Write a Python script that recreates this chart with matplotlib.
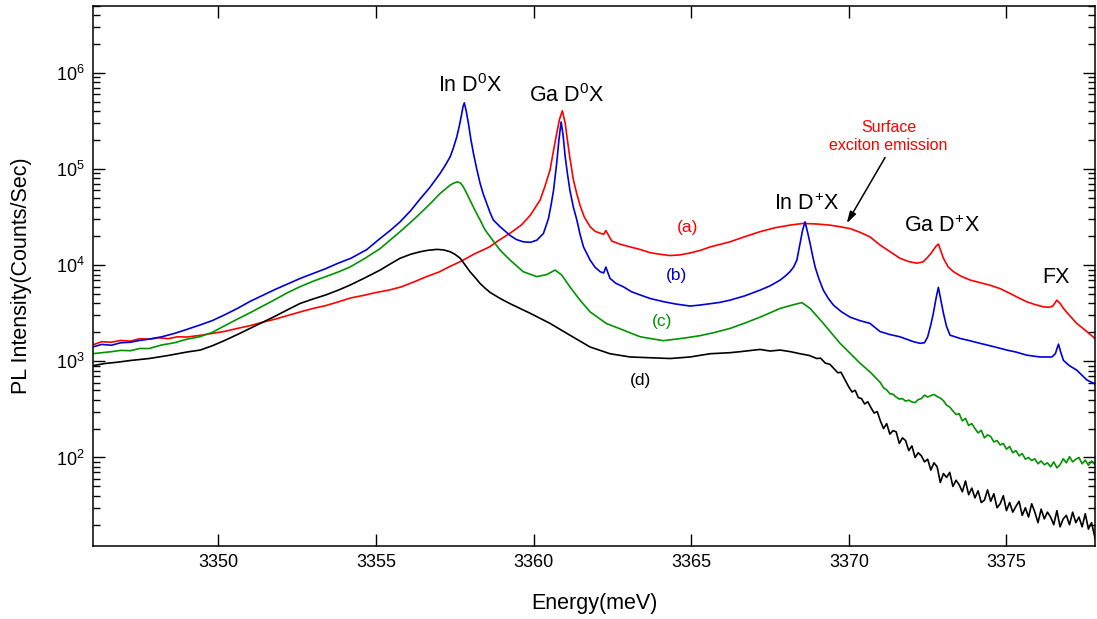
import numpy as np
import matplotlib
matplotlib.use('Agg')
from matplotlib import pyplot as plt
from matplotlib.ticker import LogLocator, MultipleLocator, NullFormatter

plt.rcParams['font.family'] = ['Liberation Sans', 'DejaVu Sans']
plt.rcParams['mathtext.fontset'] = 'custom'
plt.rcParams['mathtext.rm'] = 'Liberation Sans'
plt.rcParams['mathtext.it'] = 'Liberation Sans:italic'
plt.rcParams['mathtext.bf'] = 'Liberation Sans:bold'

# (a) red
energy_a = [3346.0, 3346.3, 3346.6, 3346.9, 3347.2, 3347.5, 3347.8, 3348.1, 3348.4, 3348.7,
            3349.0, 3349.4, 3349.8, 3350.2, 3350.6, 3351.0, 3351.4, 3351.8, 3352.2, 3352.6,
            3353.0, 3353.4, 3353.8, 3354.2, 3354.6, 3355.0, 3355.4, 3355.8, 3356.2, 3356.6,
            3357.0, 3357.3, 3357.7, 3358.1, 3358.6, 3358.9, 3359.25, 3359.6, 3359.89, 3360.2,
            3360.35, 3360.52, 3360.62, 3360.73, 3360.82, 3360.91, 3361.0, 3361.07, 3361.15, 3361.26,
            3361.37, 3361.47, 3361.6, 3361.79, 3361.95, 3362.11, 3362.22, 3362.29, 3362.48, 3362.75,
            3363.06, 3363.4, 3363.69, 3364.0, 3364.33, 3364.65, 3364.96, 3365.3, 3365.6, 3366.23,
            3366.7, 3367.18, 3367.65, 3368.13, 3368.55, 3369.0, 3369.4, 3369.7, 3370.04, 3370.35,
            3370.67, 3370.99, 3371.31, 3371.62, 3371.9, 3372.15, 3372.35, 3372.47, 3372.6, 3372.68,
            3372.77, 3372.84, 3372.92, 3373.0, 3373.15, 3373.32, 3373.55, 3373.85, 3374.15, 3374.47,
            3374.8, 3375.11, 3375.4, 3375.64, 3375.9, 3376.17, 3376.35, 3376.47, 3376.6, 3376.7,
            3376.81, 3377.0, 3377.23, 3377.55, 3377.87]
pl_a = [1480, 1600, 1580, 1650, 1620, 1720, 1700, 1760, 1720, 1800,
        1790, 1860, 1950, 2050, 2200, 2350, 2550, 2750, 3000, 3270,
        3550, 3800, 4150, 4570, 4850, 5200, 5500, 5950, 6700, 7600,
        8500, 9560, 11000, 13000, 15500, 18200, 21500, 26000, 33000, 47300,
        65000, 98000, 150000, 234000, 330000, 403000, 300000, 200000, 130000, 77000,
        55000, 42000, 32000, 25100, 22500, 21500, 21000, 22900, 17800, 16500,
        15500, 14500, 13500, 13000, 12600, 12800, 13400, 14300, 15500, 17500,
        19800, 22300, 24500, 26100, 27200, 26800, 26100, 25200, 24000, 22000,
        19700, 16200, 13800, 11800, 10900, 10500, 10800, 11800, 13200, 14400,
        15800, 16600, 14000, 11800, 9600, 8560, 7700, 7000, 6600, 6200,
        5700, 5090, 4550, 4170, 3900, 3690, 3650, 3760, 4330, 4000,
        3550, 3000, 2480, 2040, 1660]

# (b) blue
energy_b = [3346.0, 3346.3, 3346.6, 3346.9, 3347.2, 3347.5, 3347.8, 3348.2, 3348.6, 3349.0,
            3349.4, 3349.8, 3350.2, 3350.6, 3351.0, 3351.4, 3351.8, 3352.2, 3352.6, 3353.0,
            3353.4, 3353.8, 3354.2, 3354.7, 3355.13, 3355.45, 3355.76, 3356.1, 3356.4, 3356.7,
            3357.03, 3357.2, 3357.35, 3357.45, 3357.56, 3357.65, 3357.72, 3357.76, 3357.8, 3357.86,
            3357.93, 3358.0, 3358.09, 3358.2, 3358.3, 3358.4, 3358.51, 3358.62, 3358.72, 3358.93,
            3359.25, 3359.45, 3359.67, 3359.9, 3360.1, 3360.31, 3360.47, 3360.55, 3360.63, 3360.73,
            3360.8, 3360.87, 3360.93, 3361.0, 3361.07, 3361.15, 3361.26, 3361.37, 3361.47, 3361.58,
            3361.79, 3361.95, 3362.11, 3362.22, 3362.29, 3362.42, 3362.6, 3362.85, 3363.1, 3363.38,
            3363.7, 3364.11, 3364.5, 3364.96, 3365.28, 3365.6, 3365.9, 3366.23, 3366.7, 3367.18,
            3367.5, 3367.82, 3368.0, 3368.13, 3368.25, 3368.35, 3368.45, 3368.53, 3368.61, 3368.69,
            3368.77, 3368.85, 3368.93, 3369.05, 3369.19, 3369.35, 3369.51, 3369.75, 3370.04, 3370.35,
            3370.67, 3370.99, 3371.3, 3371.62, 3372.05, 3372.26, 3372.4, 3372.5, 3372.6, 3372.68,
            3372.77, 3372.84, 3372.92, 3373.0, 3373.1, 3373.21, 3373.53, 3373.8, 3374.16, 3374.6,
            3375.01, 3375.3, 3375.64, 3376.07, 3376.44, 3376.55, 3376.65, 3376.72, 3376.81, 3377.0,
            3377.23, 3377.55, 3377.87]
pl_b = [1410, 1500, 1470, 1560, 1580, 1650, 1700, 1800, 1950, 2150,
        2380, 2650, 3050, 3550, 4200, 4850, 5600, 6400, 7300, 8200,
        9200, 10500, 11800, 14500, 19000, 23000, 28200, 37000, 49000, 64000,
        90000, 110000, 134000, 165000, 216000, 290000, 380000, 450000, 488000, 400000,
        298000, 210000, 145000, 98000, 71000, 55000, 43800, 35000, 29500, 25200,
        20400, 18500, 17500, 17300, 18200, 21400, 30600, 42000, 60000, 115000,
        200000, 309000, 230000, 134000, 90000, 60000, 40000, 29500, 21000, 15500,
        11300, 9500, 8550, 8300, 9560, 7300, 6500, 5950, 5300, 4900,
        4500, 4180, 3950, 3760, 3850, 3980, 4100, 4330, 4800, 5500,
        6100, 7000, 7800, 8550, 9600, 11300, 16800, 23000, 28200, 22000,
        16800, 12500, 9560, 7200, 5500, 4500, 3850, 3300, 2880, 2650,
        2480, 2040, 1900, 1800, 1600, 1540, 1560, 1800, 2400, 3160,
        4600, 5880, 4300, 3160, 2300, 1870, 1730, 1650, 1540, 1420,
        1310, 1250, 1160, 1110, 1110, 1200, 1510, 1250, 1020, 900,
        810, 640, 570]

# (c) green
energy_c = [3346.0, 3346.3, 3346.6, 3346.9, 3347.2, 3347.5, 3347.8, 3348.2, 3348.6, 3349.0,
            3349.4, 3349.8, 3350.2, 3350.6, 3351.0, 3351.4, 3351.8, 3352.2, 3352.6, 3353.0,
            3353.4, 3353.8, 3354.17, 3354.65, 3355.13, 3355.45, 3355.76, 3356.1, 3356.4, 3356.7,
            3357.03, 3357.2, 3357.35, 3357.45, 3357.58, 3357.68, 3357.77, 3357.85, 3357.98, 3358.15,
            3358.3, 3358.45, 3358.62, 3358.93, 3359.25, 3359.67, 3360.1, 3360.42, 3360.68, 3360.89,
            3361.15, 3361.47, 3361.79, 3362.3, 3362.85, 3363.38, 3364.11, 3364.75, 3365.28, 3365.75,
            3366.23, 3366.7, 3367.18, 3367.82, 3368.2, 3368.51, 3368.77, 3369.19, 3369.72, 3370.35,
            3370.7,
            3371.0, 3371.1, 3371.2, 3371.3, 3371.4, 3371.5, 3371.6, 3371.7, 3371.8, 3371.9,
            3372.0, 3372.1, 3372.2, 3372.3, 3372.4, 3372.5, 3372.6, 3372.7, 3372.8, 3372.9,
            3373.0, 3373.1, 3373.2, 3373.3, 3373.4, 3373.5, 3373.6, 3373.7, 3373.8, 3373.9,
            3374.0, 3374.1, 3374.2, 3374.3, 3374.4, 3374.5, 3374.6, 3374.7, 3374.8, 3374.9,
            3375.0, 3375.1, 3375.2, 3375.3, 3375.4, 3375.5, 3375.6, 3375.7, 3375.8, 3375.9,
            3376.0, 3376.1, 3376.2, 3376.3, 3376.4, 3376.5, 3376.6, 3376.7, 3376.8, 3376.9,
            3377.0, 3377.1, 3377.2, 3377.3, 3377.4, 3377.5, 3377.6, 3377.7, 3377.8, 3377.9]
pl_c = [1200, 1230, 1260, 1300, 1290, 1360, 1360, 1480, 1560, 1700,
        1800, 2000, 2350, 2750, 3200, 3750, 4400, 5200, 6000, 6800,
        7600, 8500, 9560, 11800, 14900, 18300, 22300, 28000, 34600, 43000,
        55700, 62000, 68000, 71000, 73600, 71500, 65000, 58000, 47500, 36500,
        29500, 23500, 19700, 14400, 11300, 8550, 7600, 8000, 8900, 7890,
        5950, 4330, 3270, 2480, 2110, 1800, 1640, 1740, 1850, 2000,
        2200, 2500, 2880, 3550, 3850, 4080, 3550, 2480, 1540, 960,
        760,
        600, 530, 505, 460, 455, 425, 405, 410, 385, 395,
        378, 372, 400, 410, 445, 425, 440, 452, 430, 415,
        390, 350, 335, 305, 280, 285, 240, 255, 215, 225,
        200, 180, 192, 160, 172, 165, 145, 150, 135, 140,
        122, 130, 112, 118, 104, 110, 96, 100, 93, 97,
        86, 92, 84, 88, 80, 90, 78, 84, 97, 88,
        102, 90, 96, 100, 86, 94, 83, 92, 85, 80]

# (d) black
energy_d = [3346.0, 3346.4, 3346.8, 3347.2, 3347.8, 3348.4, 3349.0, 3349.42, 3349.8, 3350.2,
            3350.6, 3351.0, 3351.4, 3351.8, 3352.2, 3352.59, 3353.0, 3353.4, 3353.8, 3354.17,
            3354.65, 3355.13, 3355.45, 3355.76, 3356.1, 3356.4, 3356.65, 3356.93, 3357.15, 3357.35,
            3357.5, 3357.67, 3357.82, 3357.98, 3358.15, 3358.3, 3358.45, 3358.62, 3358.93, 3359.25,
            3359.89, 3360.52, 3361.15, 3361.79, 3362.42, 3363.06, 3363.69, 3364.33, 3364.96, 3365.6,
            3366.23, 3366.55, 3366.9, 3367.18, 3367.5, 3367.82, 3368.15, 3368.45, 3368.75, 3368.98,
            3369.1, 3369.25, 3369.4, 3369.51, 3369.65, 3369.75, 3369.88,
            3370.0, 3370.1, 3370.2, 3370.3, 3370.4, 3370.5, 3370.6, 3370.7, 3370.8, 3370.9,
            3371.0, 3371.1, 3371.2, 3371.3, 3371.4, 3371.5, 3371.6, 3371.7, 3371.8, 3371.9,
            3372.0, 3372.1, 3372.2, 3372.3, 3372.4, 3372.5, 3372.6, 3372.7, 3372.8, 3372.9,
            3373.0, 3373.1, 3373.2, 3373.3, 3373.4, 3373.5, 3373.6, 3373.7, 3373.8, 3373.9,
            3374.0, 3374.1, 3374.2, 3374.3, 3374.4, 3374.5, 3374.6, 3374.7, 3374.8, 3374.9,
            3375.0, 3375.1, 3375.2, 3375.3, 3375.4, 3375.5, 3375.6, 3375.7, 3375.8, 3375.9,
            3376.0, 3376.1, 3376.2, 3376.3, 3376.4, 3376.5, 3376.6, 3376.7, 3376.8, 3376.9,
            3377.0, 3377.1, 3377.2, 3377.3, 3377.4, 3377.5, 3377.6, 3377.7, 3377.8, 3377.9]
pl_d = [900, 950, 980, 1020, 1070, 1150, 1250, 1310, 1450, 1650,
        1900, 2200, 2550, 2950, 3450, 4000, 4450, 4900, 5500, 6200,
        7400, 8900, 10300, 11800, 13000, 13800, 14300, 14600, 14400, 13800,
        13000, 11800, 10100, 8550, 7400, 6450, 5800, 5200, 4520, 3980,
        3160, 2480, 1870, 1410, 1200, 1110, 1090, 1070, 1110, 1200,
        1230, 1260, 1300, 1330, 1280, 1310, 1260, 1200, 1150, 1070,
        1080, 960, 930, 850, 760, 770, 640,
        540, 480, 500, 420, 410, 360, 380, 330, 290, 300,
        240, 200, 225, 175, 190, 185, 140, 160, 150, 118,
        132, 100, 112, 104, 90, 96, 74, 88, 80, 55,
        68, 62, 70, 50, 58, 52, 44, 57, 41, 48,
        38, 45, 34, 36, 46, 35, 42, 30, 33, 40,
        28, 34, 27, 31, 35, 25, 30, 24, 33, 27,
        21, 29, 23, 27, 24, 20, 28, 19, 23, 25,
        20, 27, 21, 24, 19, 26, 18, 21, 15, 11]

peak_labels = ['In D$^0$X', 'Ga D$^0$X', 'In D$^{\\!+\\!}$X', 'Ga D$^{\\!+\\!}$X', 'FX']
peak_x = [3357.98, 3361.04, 3368.67, 3372.95, 3376.57]
peak_y = [6.3e5, 4.95e5, 3.74e4, 2.21e4, 6.5e3]

curve_labels = ['(a)', '(b)', '(c)', '(d)']
curve_label_x = [3364.87, 3364.52, 3364.07, 3363.4]
curve_label_y = [24900, 7800, 2620, 632]

red = '#ff0000'
blue = '#0000dd'
green = '#009400'
black = '#000000'
colors = [red, blue, green, black]

fig = plt.figure(figsize=(10.97, 6.19), dpi=100)
ax = fig.add_axes([0.0851, 0.1179, 0.9134, 0.8729])

ax.plot(energy_a, pl_a, color=red, lw=1.2)
ax.plot(energy_b, pl_b, color=blue, lw=1.2)
ax.plot(energy_c, pl_c, color=green, lw=1.2)
ax.plot(energy_d, pl_d, color=black, lw=1.2)

ax.set_yscale('log')
ax.set_xlim(3346.03, 3377.82)
ax.set_ylim(12.0, 5.0e6)

ax.xaxis.set_major_locator(MultipleLocator(5))
ax.yaxis.set_major_locator(LogLocator(base=10, numticks=12))
ax.yaxis.set_minor_locator(LogLocator(base=10, subs=np.arange(2, 10), numticks=12))
ax.yaxis.set_minor_formatter(NullFormatter())

ax.tick_params(axis='both', which='major', direction='in', length=8.5, width=1.0,
               labelsize=13, pad=6, top=True, right=True)
ax.tick_params(axis='y', which='minor', direction='in', length=5, width=1.0,
               left=True, right=True)
ax.tick_params(axis='x', which='minor', bottom=False, top=False)
for s in ax.spines.values():
    s.set_linewidth(1.1)

ax.set_xlabel('Energy(meV)', fontsize=15.5)
ax.set_ylabel('PL Intensity(Counts/Sec)', fontsize=15.5)
ax.xaxis.set_label_coords(0.5, -0.087)
ax.yaxis.set_label_coords(-0.061, 0.5)

# peak names
for lab, px, py in zip(peak_labels, peak_x, peak_y):
    ax.text(px, py, lab, fontsize=15.5, ha='center', va='baseline')

# curve tags
for lab, px, py, c in zip(curve_labels, curve_label_x, curve_label_y, colors):
    ax.text(px, py, lab, fontsize=12.5, color=c, ha='center', va='center')

ax.text(3371.26, 2.17e5, 'Surface\nexciton emission', fontsize=11.5, color=red,
        ha='center', va='center', linespacing=1.2)
ax.annotate('', xy=(3369.93, 2.72e4), xytext=(3371.15, 1.32e5),
            arrowprops=dict(arrowstyle='-|>,head_length=0.7,head_width=0.2',
                            color='black', lw=1.1, shrinkA=0, shrinkB=0))

fig.savefig('out.png', dpi=100)
